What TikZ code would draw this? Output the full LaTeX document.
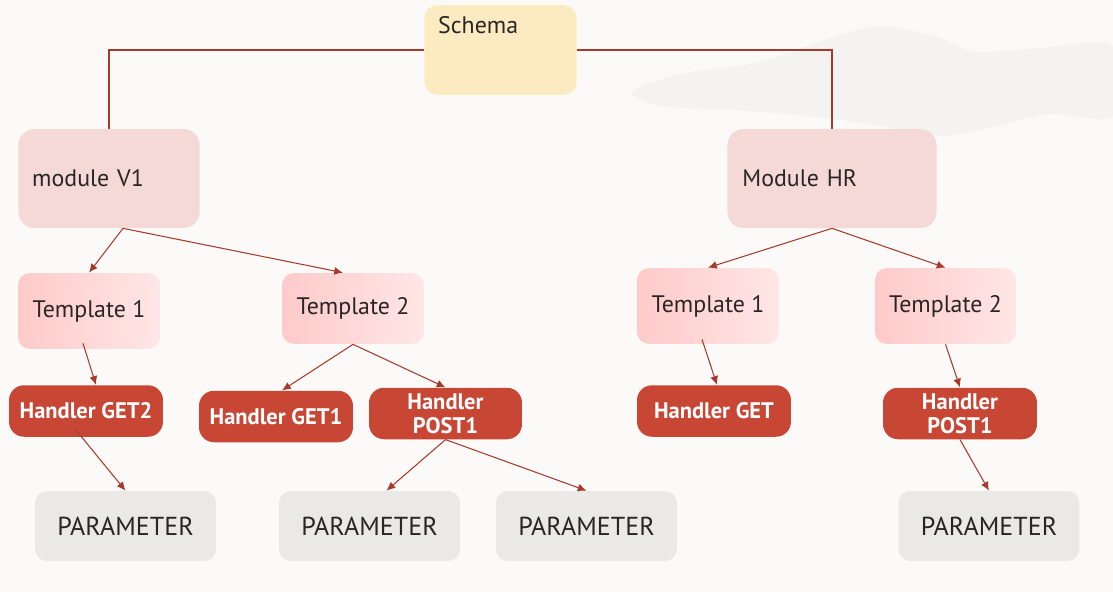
\documentclass[tikz,border=0pt]{standalone}
\usepackage{fontspec}
\setmainfont{PT Sans}
\usetikzlibrary{arrows.meta}
\definecolor{bgcol}{HTML}{FBFAF9}
\definecolor{blobcol}{HTML}{F5F3F2}
\definecolor{schemacol}{HTML}{FCEBC0}
\definecolor{modcol}{HTML}{F4D9D6}
\definecolor{tpleft}{HTML}{FFCACA}
\definecolor{tpright}{HTML}{FFE6E6}
\definecolor{handcol}{HTML}{C74634}
\definecolor{paramcol}{HTML}{EAE9E7}
\definecolor{linkcol}{HTML}{A63B2C}
\definecolor{txtcol}{HTML}{2A2624}
\tikzstyle{schemabox}=[rectangle,rounded corners=0.26cm,fill=schemacol,text=txtcol,font=\fontsize{13.6pt}{15pt}\selectfont,align=left,text width=70.9pt,inner xsep=7.9pt,inner ysep=6.9pt,text height=9pt,text depth=28.2pt]
\tikzstyle{modulebox}=[rectangle,rounded corners=0.32cm,fill=modcol,text=txtcol,font=\fontsize{13.6pt}{15pt}\selectfont,align=left,minimum height=1.98cm]
\tikzstyle{templatebox}=[rectangle,rounded corners=0.24cm,left color=tpleft,right color=tpright,text=txtcol,font=\fontsize{13.6pt}{15pt}\selectfont,minimum width=2.84cm,minimum height=1.52cm]
\tikzstyle{handlerbox}=[rectangle,rounded corners=0.3cm,fill=handcol,text=white,font=\bfseries\fontsize{12.8pt}{13.6pt}\selectfont,align=center,minimum width=3.08cm,minimum height=1.03cm,inner sep=1pt]
\tikzstyle{parambox}=[rectangle,rounded corners=0.24cm,fill=paramcol,text=txtcol,font=\fontsize{14.8pt}{16pt}\selectfont,minimum width=3.62cm,minimum height=1.4cm]
\tikzstyle{link}=[draw=linkcol,line width=0.6pt]
\tikzstyle{arrow}=[link,-{Latex[length=5pt,width=4.5pt]}]

\begin{document}
\begin{tikzpicture}[x=0.02cm,y=-0.02cm]

\useasboundingbox (0,0) rectangle (1113,592);
\fill[bgcol] (0,0) rectangle (1113,592);
\fill[blobcol] plot[smooth cycle] coordinates {(632,92) (680,74) (760,62) (830,38) (880,26) (935,36) (975,52) (1040,48) (1113,46) (1113,116) (1050,114) (990,128) (940,136) (880,126) (810,116) (730,110) (662,106)};

\node (schema) [schemabox] at (500.5,50) {Schema};
\node (mv1) [modulebox,text width=87.4pt,inner xsep=7.9pt] at (109,178.5) {module V1};
\node (mhr) [modulebox,text width=102pt,inner xsep=8.5pt] at (832,178.5) {Module HR};

\node (t1l) [templatebox] at (89,311) {Template 1};
\node (t2l) [templatebox,minimum height=1.42cm] at (353,308.5) {Template 2};
\node (t1r) [templatebox] at (708,306) {Template 1};
\node (t2r) [templatebox,minimum width=2.82cm] at (945.5,306) {Template 2};

\node (hget2) [handlerbox] at (86,411) {Handler GET2};
\node (hget1) [handlerbox] at (276,416.5) {Handler GET1};
\node (hpost1l) [handlerbox,minimum width=3.06cm] at (445.5,413.5) {Handler\\POST1};
\node (hget) [handlerbox] at (714,411) {Handler GET};
\node (hpost1r) [handlerbox] at (960,413.5) {Handler\\POST1};

\node (p1) [parambox] at (125.5,526) {PARAMETER};
\node (p2) [parambox] at (369.5,526) {PARAMETER};
\node (p3) [parambox] at (586.5,526) {PARAMETER};
\node (p4) [parambox] at (989,526) {PARAMETER};

\draw[link] (schema.west) -| (mv1.north);
\draw[link] (schema.east) -| (mhr.north);
\draw[arrow] ([xshift=0.28cm]mv1.south) -- (t1l.north);
\draw[arrow] ([xshift=0.28cm]mv1.south) -- ([xshift=-0.2cm]t2l.north);
\draw[arrow] (mhr.south) -- (t1r.north);
\draw[arrow] (mhr.south) -- (t2r.north);
\draw[arrow] ([xshift=-0.12cm,yshift=0.12cm]t1l.south) -- ([xshift=0.2cm]hget2.north);
\draw[arrow] (t2l.south) -- ([xshift=0.12cm]hget1.north);
\draw[arrow] (t2l.south) -- (hpost1l.north);
\draw[arrow] ([xshift=-0.12cm,yshift=0.1cm]t1r.south) -- ([xshift=0.06cm]hget.north);
\draw[arrow] (t2r.south) -- (hpost1r.north);
\draw[arrow] ([xshift=-0.2cm,yshift=0.14cm]hget2.south) -- (p1.north);
\draw[arrow] (hpost1l.south) -- ([xshift=0.34cm]p2.north);
\draw[arrow] (hpost1l.south) -- (p3.north);
\draw[arrow] (hpost1r.south) -- (p4.north);
\end{tikzpicture}
\end{document}
